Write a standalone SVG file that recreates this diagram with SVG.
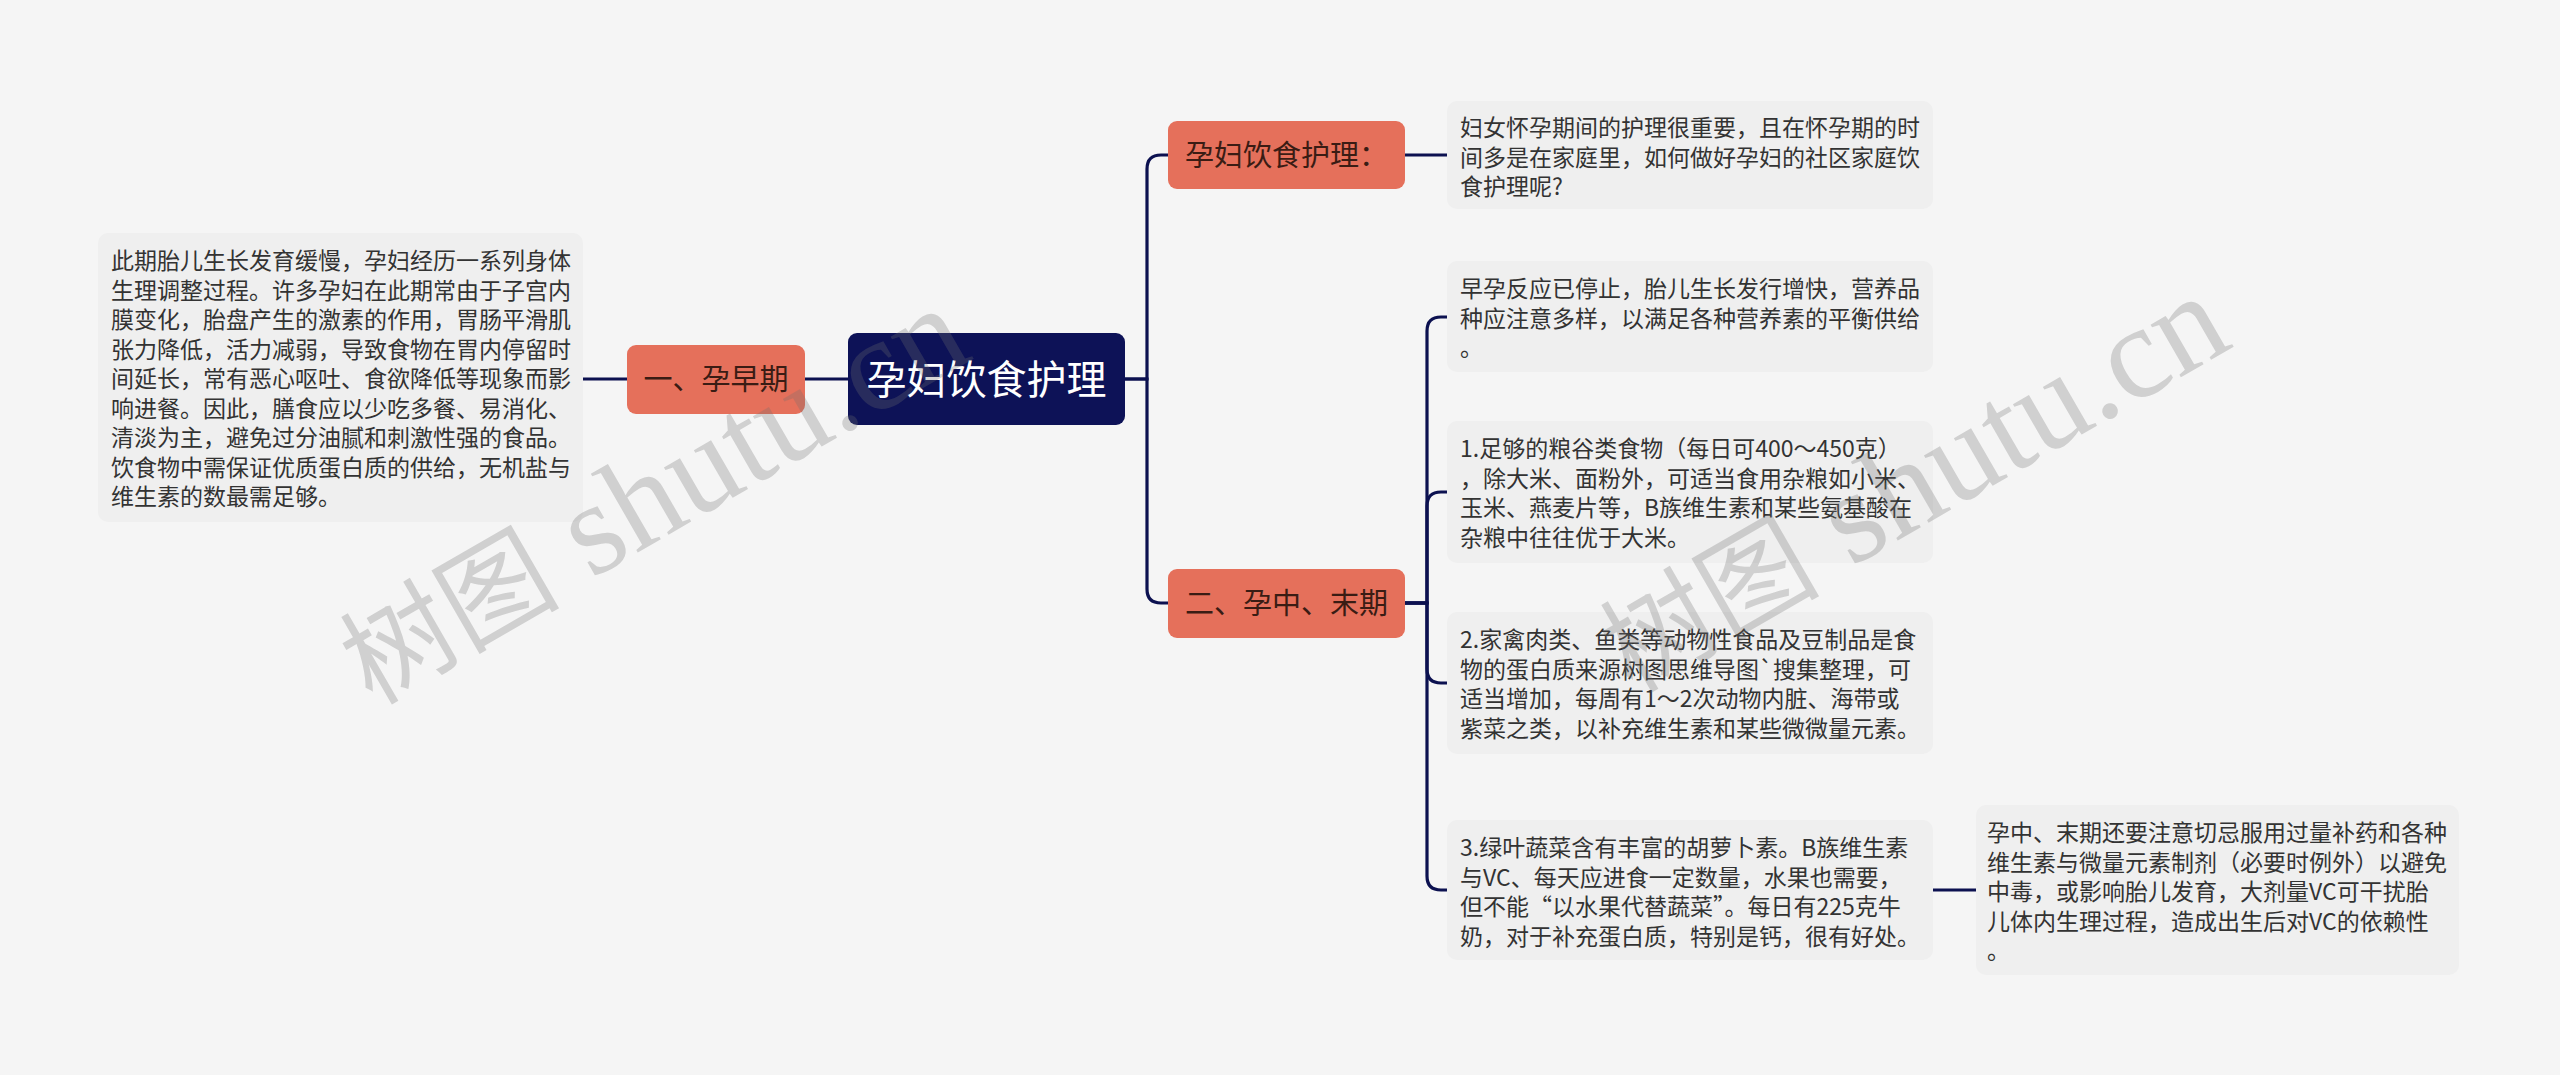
<svg xmlns="http://www.w3.org/2000/svg" width="2560" height="1075" viewBox="0 0 2560 1075">
<style>
.bg{fill:#f5f5f5}
.box{fill:#efefef}
.btxt{font-family:"Noto Sans CJK SC","Liberation Sans",sans-serif;font-size:23px;fill:#333333}
.org{fill:#e5705b}
.otxt{font-family:"Noto Sans CJK SC","Liberation Sans",sans-serif;font-size:29px;fill:#3a1c14;text-anchor:middle}
.root{fill:#0d1257}
.rtxt{font-family:"Noto Sans CJK SC","Liberation Sans",sans-serif;font-size:40px;fill:#ffffff;text-anchor:middle}
.conn path{fill:none;stroke:#0c1150;stroke-width:3.2;stroke-linecap:round}
.wm{font-family:"Liberation Serif","Noto Sans CJK SC",serif;font-size:110px;fill:#6e6e6e;fill-opacity:0.28}
.wm .lat{font-size:132px}
</style>
<rect class="bg" x="0" y="0" width="2560" height="1075"/>

<g id="connectors" class="conn">
  <path d="M848,379 H805"/>
  <path d="M627,379 H583"/>
  <path d="M1125,379 H1147 V169 Q1147,155 1161,155 H1168"/>
  <path d="M1125,379 H1147 V589 Q1147,603 1161,603 H1168"/>
  <path d="M1405,155 H1447"/>
  <path d="M1405,603 H1427 V331 Q1427,317 1441,317 H1447"/>
  <path d="M1405,603 H1427 V506 Q1427,492 1441,492 H1447"/>
  <path d="M1405,603 H1427 V669 Q1427,683 1441,683 H1447"/>
  <path d="M1405,603 H1427 V876 Q1427,890 1441,890 H1447"/>
  <path d="M1933,890 H1976"/>
</g>

<g id="root">
  <rect class="root" x="848" y="333" width="277" height="92" rx="9"/>
  <text class="rtxt" x="986.5" y="394">孕妇饮食护理</text>
</g>

<g id="node-early">
  <rect class="org" x="627" y="345" width="178" height="69" rx="9"/>
  <text class="otxt" x="716" y="390">一、孕早期</text>
</g>

<g id="note-early">
  <rect class="box" x="98" y="233" width="485" height="289" rx="10"/>
  <text class="btxt">
    <tspan x="111" y="269">此期胎儿生长发育缓慢，孕妇经历一系列身体</tspan>
    <tspan x="111" y="298.5">生理调整过程。许多孕妇在此期常由于子宫内</tspan>
    <tspan x="111" y="328">膜变化，胎盘产生的激素的作用，胃肠平滑肌</tspan>
    <tspan x="111" y="357.5">张力降低，活力减弱，导致食物在胃内停留时</tspan>
    <tspan x="111" y="387">间延长，常有恶心呕吐、食欲降低等现象而影</tspan>
    <tspan x="111" y="416.5">响进餐。因此，膳食应以少吃多餐、易消化、</tspan>
    <tspan x="111" y="446">清淡为主，避免过分油腻和刺激性强的食品。</tspan>
    <tspan x="111" y="475.5">饮食物中需保证优质蛋白质的供给，无机盐与</tspan>
    <tspan x="111" y="505">维生素的数最需足够。</tspan>
  </text>
</g>

<g id="node-care">
  <rect class="org" x="1168" y="121" width="237" height="68" rx="9"/>
  <text class="otxt" x="1286.5" y="166">孕妇饮食护理：</text>
</g>

<g id="note-care">
  <rect class="box" x="1447" y="101" width="486" height="108" rx="10"/>
  <text class="btxt">
    <tspan x="1460" y="136">妇女怀孕期间的护理很重要，且在怀孕期的时</tspan>
    <tspan x="1460" y="165.5">间多是在家庭里，如何做好孕妇的社区家庭饮</tspan>
    <tspan x="1460" y="195">食护理呢?</tspan>
  </text>
</g>

<g id="node-mid">
  <rect class="org" x="1168" y="569" width="237" height="69" rx="9"/>
  <text class="otxt" x="1286.5" y="614">二、孕中、末期</text>
</g>

<g id="note-mid-0">
  <rect class="box" x="1447" y="261" width="486" height="111" rx="10"/>
  <text class="btxt">
    <tspan x="1460" y="297">早孕反应已停止，胎儿生长发行增快，营养品</tspan>
    <tspan x="1460" y="326.5">种应注意多样，以满足各种营养素的平衡供给</tspan>
    <tspan x="1460" y="356">。</tspan>
  </text>
</g>

<g id="note-mid-1">
  <rect class="box" x="1447" y="421" width="486" height="142" rx="10"/>
  <text class="btxt">
    <tspan x="1460" y="457">1.足够的粮谷类食物（每日可400～450克）</tspan>
    <tspan x="1460" y="486.5">，除大米、面粉外，可适当食用杂粮如小米、</tspan>
    <tspan x="1460" y="516">玉米、燕麦片等，B族维生素和某些氨基酸在</tspan>
    <tspan x="1460" y="545.5">杂粮中往往优于大米。</tspan>
  </text>
</g>

<g id="note-mid-2">
  <rect class="box" x="1447" y="612" width="486" height="142" rx="10"/>
  <text class="btxt">
    <tspan x="1460" y="648">2.家禽肉类、鱼类等动物性食品及豆制品是食</tspan>
    <tspan x="1460" y="677.5">物的蛋白质来源树图思维导图`搜集整理，可</tspan>
    <tspan x="1460" y="707">适当增加，每周有1～2次动物内脏、海带或</tspan>
    <tspan x="1460" y="736.5">紫菜之类，以补充维生素和某些微微量元素。</tspan>
  </text>
</g>

<g id="note-mid-3">
  <rect class="box" x="1447" y="820" width="486" height="140" rx="10"/>
  <text class="btxt">
    <tspan x="1460" y="856">3.绿叶蔬菜含有丰富的胡萝卜素。B族维生素</tspan>
    <tspan x="1460" y="885.5">与VC、每天应进食一定数量，水果也需要，</tspan>
    <tspan x="1460" y="915">但不能“以水果代替蔬菜”。每日有225克牛</tspan>
    <tspan x="1460" y="944.5">奶，对于补充蛋白质，特别是钙，很有好处。</tspan>
  </text>
</g>

<g id="note-mid-3-sub">
  <rect class="box" x="1976" y="805" width="483" height="170" rx="10"/>
  <text class="btxt">
    <tspan x="1987" y="841">孕中、末期还要注意切忌服用过量补药和各种</tspan>
    <tspan x="1987" y="870.5">维生素与微量元素制剂（必要时例外）以避免</tspan>
    <tspan x="1987" y="900">中毒，或影响胎儿发育，大剂量VC可干扰胎</tspan>
    <tspan x="1987" y="929.5">儿体内生理过程，造成出生后对VC的依赖性</tspan>
    <tspan x="1987" y="959">。</tspan>
  </text>
</g>

<g id="watermarks">
  <text class="wm" transform="translate(372,706) rotate(-30)">树图<tspan class="lat"> shutu.cn</tspan></text>
  <text class="wm" transform="translate(1632,694) rotate(-30)">树图<tspan class="lat"> shutu.cn</tspan></text>
</g>
</svg>
